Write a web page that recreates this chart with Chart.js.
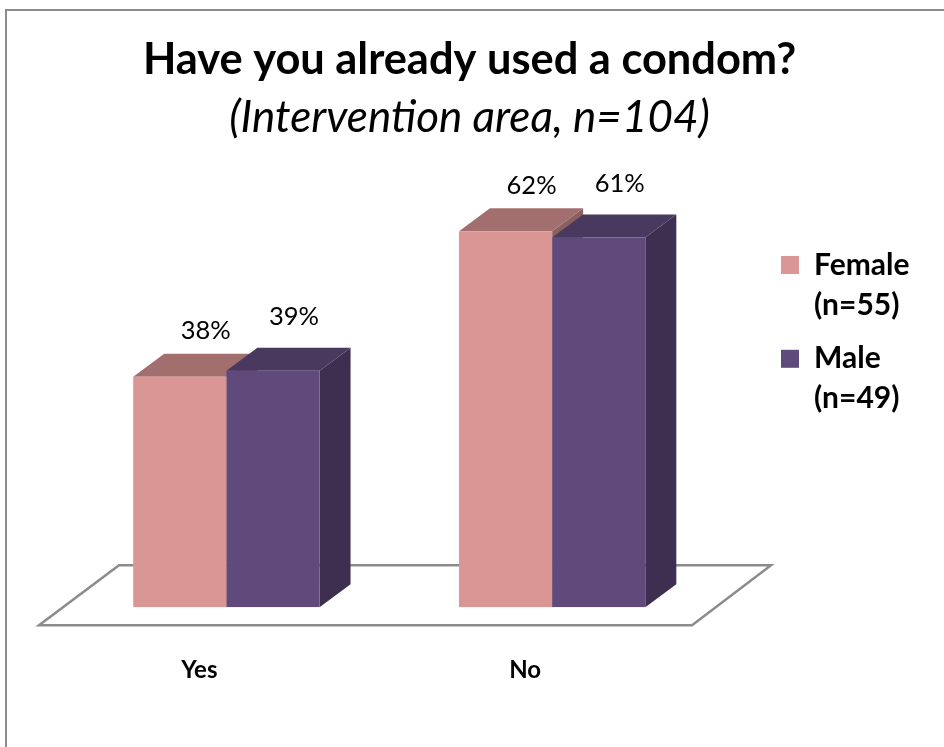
<!DOCTYPE html>
<html>
<head>
<meta charset="utf-8">
<style>
  html, body { margin: 0; padding: 0; background: #fff; }
  #wrap { position: relative; width: 944px; height: 747px; }
</style>
<script src="https://cdn.jsdelivr.net/npm/chart.js@4"></script>
</head>
<body>
<div id="wrap"><canvas id="grafico" width="944" height="747"></canvas></div>
<script>
var categories = ["Yes", "No"];
var femaleValues = [38, 62];
var maleValues = [39, 61];
var femaleLabel = ["Female", "(n=55)"];
var maleLabel = ["Male", "(n=49)"];
var titleText = "Have you already used a condom?";
var subtitleText = "(Intervention area, n=104)";

var FONT = "Lato, 'Open Sans', sans-serif";
var femaleColors = { front: "#d99694", side: "#8a5f5e", top: "#a36f6e" };
var maleColors = { front: "#604a7b", side: "#3e2f50", top: "#4a395f" };

// depth of the fake 3D boxes and the floor
var depthX = 31, depthY = 23;

// marco exterior y suelo
var floorPlugin = {
  id: "floor",
  beforeDraw: function (chart) {
    var c = chart.ctx;
    c.save();
    c.strokeStyle = "#8c8c8c";
    c.lineWidth = 2;
    c.beginPath();
    c.moveTo(6, 747);
    c.lineTo(6, 10);
    c.lineTo(944, 10);
    c.stroke();
    c.restore();
  },
  beforeDatasetsDraw: function (chart) {
    var c = chart.ctx, a = chart.chartArea, zero = chart.scales.y.getPixelForValue(0);
    c.save();
    c.strokeStyle = "#8c8c8c";
    c.lineWidth = 2.5;
    c.lineJoin = "miter";
    c.beginPath();
    c.moveTo(a.left - 24.5, zero + 18);
    c.lineTo(a.left + 55.5, zero - 42);
    c.lineTo(a.right + 56, zero - 42);
    c.lineTo(a.right - 23, zero + 18);
    c.closePath();
    c.stroke();
    c.restore();
  }
};

// caras superior y lateral de cada barra
var boxPlugin = {
  id: "boxes",
  beforeDatasetsDraw: function (chart) {
    var c = chart.ctx;
    chart.data.datasets.forEach(function (ds, i) {
      var colors = i === 0 ? femaleColors : maleColors;
      chart.getDatasetMeta(i).data.forEach(function (bar) {
        var p = bar.getProps(["x", "y", "base", "width"], true);
        var l = p.x - p.width / 2, r = p.x + p.width / 2;
        c.fillStyle = colors.side;
        c.beginPath();
        c.moveTo(r, p.y);
        c.lineTo(r + depthX, p.y - depthY);
        c.lineTo(r + depthX, p.base - depthY);
        c.lineTo(r, p.base);
        c.closePath();
        c.fill();
        c.fillStyle = colors.top;
        c.beginPath();
        c.moveTo(l, p.y);
        c.lineTo(l + depthX, p.y - depthY);
        c.lineTo(r + depthX, p.y - depthY);
        c.lineTo(r, p.y);
        c.closePath();
        c.fill();
      });
    });
  },
  afterDatasetsDraw: function (chart) {
    var c = chart.ctx;
    c.save();
    c.fillStyle = "#000";
    c.font = "25.5px " + FONT;
    c.textAlign = "center";
    c.textBaseline = "middle";
    chart.data.datasets.forEach(function (ds, i) {
      chart.getDatasetMeta(i).data.forEach(function (bar, j) {
        var dx = i === 0 ? 26 : 21, dy = i === 0 ? 46 : 54;
        c.fillText(ds.data[j] + "%", bar.x + dx, bar.y - dy);
      });
    });
    c.restore();
  }
};

// mueve la leyenda y centra los titulos
var legendPlugin = {
  id: "legendPlace",
  afterLayout: function (chart) {
    var lg = chart.legend;
    lg.left = 767;
    lg.right = 944;
    lg.top = 236;
    lg.bottom = 747;
    chart.boxes.forEach(function (b) {
      if (b.position === "top") {
        b.left += 9;
        b.right += 9;
      }
    });
  }
};

var ctx = document.getElementById("grafico").getContext("2d");
var chart = new Chart(ctx, {
  type: "bar",
  data: {
    labels: categories,
    datasets: [
      { label: femaleLabel, data: femaleValues, backgroundColor: femaleColors.front },
      { label: maleLabel, data: maleValues, backgroundColor: maleColors.front }
    ]
  },
  plugins: [floorPlugin, boxPlugin, legendPlugin],
  options: {
    responsive: false,
    animation: false,
    layout: { padding: { left: 63.5, right: 86.5, top: 34, bottom: 21 } },
    plugins: {
      tooltip: { enabled: false },
      title: {
        display: true,
        text: titleText,
        color: "#000",
        font: { family: FONT, size: 43.4, weight: "bold" },
        padding: { top: 0, bottom: 5 }
      },
      subtitle: {
        display: true,
        text: subtitleText,
        color: "#000",
        font: { family: FONT, size: 44, style: "italic", weight: "normal" },
        padding: { top: 0, bottom: 39 }
      },
      legend: {
        position: "right",
        align: "start",
        labels: {
          color: "#000",
          boxWidth: 18,
          boxHeight: 18,
          padding: 14,
          font: { family: FONT, size: 30, weight: "bold", lineHeight: 1.33 }
        }
      }
    },
    scales: {
      x: {
        grid: { display: false },
        border: { display: false },
        ticks: {
          color: "#000",
          padding: 41,
          labelOffset: -27,
          maxRotation: 0,
          font: { family: FONT, size: 24, weight: "bold" }
        }
      },
      y: {
        display: false,
        min: 0,
        max: 70
      }
    },
    datasets: { bar: { barPercentage: 1, categoryPercentage: 0.572 } }
  }
});
</script>
</body>
</html>
